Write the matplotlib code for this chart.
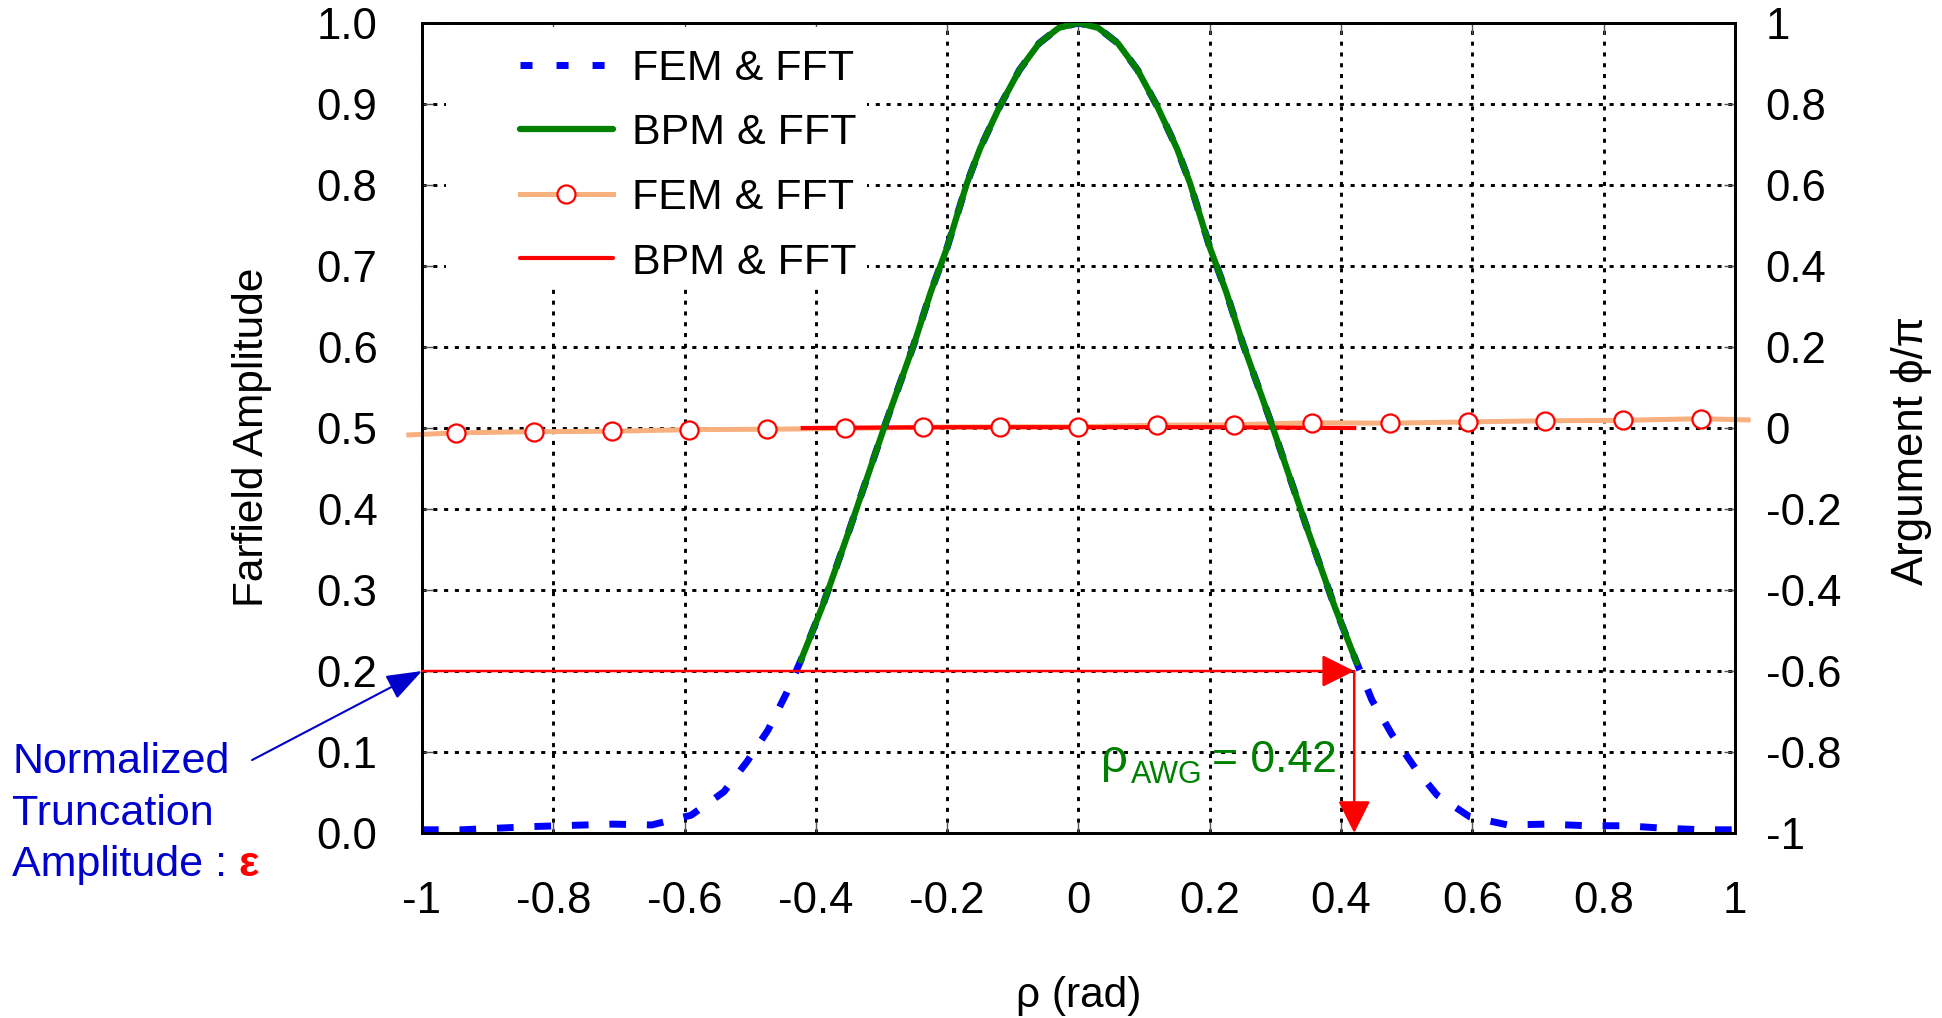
import matplotlib
matplotlib.use('Agg')
import matplotlib.pyplot as plt
import numpy as np
from matplotlib.lines import Line2D
from matplotlib.patches import Rectangle

plt.rcParams['font.family'] = ['Liberation Sans', 'DejaVu Sans']

# farfield amplitude, FEM & FFT (full range) and BPM & FFT (truncated window)
amp_x_fem = [-1.0, -0.94, -0.83, -0.71, -0.65, -0.59, -0.54, -0.505, -0.473, -0.444,
             -0.423, -0.39, -0.35, -0.295, -0.28, -0.25, -0.225, -0.2, -0.17, -0.15,
             -0.12, -0.09, -0.06, -0.03, 0.0, 0.03, 0.06, 0.09, 0.12, 0.15,
             0.17, 0.2, 0.225, 0.25, 0.28, 0.295, 0.35, 0.39, 0.424, 0.447,
             0.478, 0.513, 0.546, 0.596, 0.654, 0.714, 0.775, 0.833, 0.89, 0.951, 1.0]
amp_fem = [0.004, 0.004, 0.008, 0.011, 0.010, 0.022, 0.051, 0.088, 0.127, 0.174,
           0.213, 0.28, 0.372, 0.503, 0.537, 0.605, 0.668, 0.723, 0.802, 0.845,
           0.897, 0.942, 0.975, 0.994, 1.0, 0.994, 0.975, 0.942, 0.897, 0.845,
           0.802, 0.723, 0.668, 0.605, 0.537, 0.503, 0.372, 0.28, 0.21, 0.164,
           0.121, 0.080, 0.047, 0.020, 0.010, 0.011, 0.009, 0.009, 0.006, 0.004, 0.004]

amp_x_bpm = [-0.423, -0.39, -0.35, -0.295, -0.28, -0.25, -0.225, -0.2, -0.17, -0.15,
             -0.12, -0.09, -0.06, -0.03, 0.0, 0.03, 0.06, 0.09, 0.12, 0.15,
             0.17, 0.2, 0.225, 0.25, 0.28, 0.295, 0.35, 0.39, 0.424]
amp_bpm = [0.213, 0.28, 0.372, 0.503, 0.537, 0.605, 0.668, 0.723, 0.802, 0.845,
           0.897, 0.942, 0.975, 0.994, 1.0, 0.994, 0.975, 0.942, 0.897, 0.845,
           0.802, 0.723, 0.668, 0.605, 0.537, 0.503, 0.372, 0.28, 0.21]

# phase (argument / pi)
phase_x_fem = [-1.02, -0.948, -0.83, -0.711, -0.593, -0.474, -0.356, -0.237, -0.119, 0.0,
               0.119, 0.237, 0.356, 0.474, 0.593, 0.711, 0.83, 0.948, 1.02]
phase_fem = [-0.017, -0.012, -0.009, -0.008, -0.004, -0.003, -0.001, 0.002, 0.003, 0.003,
             0.007, 0.008, 0.013, 0.012, 0.015, 0.018, 0.019, 0.023, 0.02]
phase_x_bpm = [-0.42, -0.2, 0.0, 0.2, 0.42]
phase_bpm = [0.0, 0.002, 0.002, 0.002, 0.0]

rho_awg = 0.42
eps = 0.2

x_ticks = [-1, -0.8, -0.6, -0.4, -0.2, 0, 0.2, 0.4, 0.6, 0.8, 1]
x_labels = ['-1', '-0.8', '-0.6', '-0.4', '-0.2', '0', '0.2', '0.4', '0.6', '0.8', '1']
amp_ticks = [0.0, 0.1, 0.2, 0.3, 0.4, 0.5, 0.6, 0.7, 0.8, 0.9, 1.0]
amp_labels = ['0.0', '0.1', '0.2', '0.3', '0.4', '0.5', '0.6', '0.7', '0.8', '0.9', '1.0']
ph_ticks = [-1, -0.8, -0.6, -0.4, -0.2, 0, 0.2, 0.4, 0.6, 0.8, 1]
ph_labels = ['-1', '-0.8', '-0.6', '-0.4', '-0.2', '0', '0.2', '0.4', '0.6', '0.8', '1']

FS = 31      # legend / notes
TFS = 31.5   # tick labels
LFS = 30.5   # axis labels
c_blue = '#0000FF'
c_green = '#008000'
c_orange = '#F9B07F'
c_red = '#FF0000'
c_note = '#0000CC'

fig = plt.figure(figsize=(19.42, 10.18), dpi=100)
ax = fig.add_axes([0.2173, 0.1817, 0.6761, 0.7957])   # phase, right axis
tw = ax.twinx()                                        # amplitude, left axis

ax.set_axisbelow(True)
ax.grid(True, color='black', linewidth=2.1, linestyle=(0, (1.4, 2.3)))
ax.add_patch(Rectangle((0.018, 0.674), 0.321, 0.321, transform=ax.transAxes,
                       facecolor='white', edgecolor='none', zorder=1))

# phase curves
ax.plot(phase_x_fem, phase_fem, color=c_orange, lw=3.6, zorder=2, clip_on=False)
ax.plot(phase_x_bpm, phase_bpm, color=c_red, lw=3.0, zorder=2.1)
ax.plot(phase_x_fem[1:-1], phase_fem[1:-1], 'o', ms=13, mfc='white', mec=c_red,
        mew=1.6, zorder=2.2)

# amplitude curves
tw.plot(amp_x_fem, amp_fem, color=c_blue, lw=5, dashes=(2.4, 3.0), zorder=2)
tw.plot(amp_x_bpm, amp_bpm, color=c_green, lw=4.5, zorder=3, solid_capstyle='round')

ax.set_xlim(-1, 1)
ax.set_ylim(-1, 1)
tw.set_ylim(0, 1)
ax.set_xticks(x_ticks)
ax.set_xticklabels(x_labels)
ax.set_yticks(ph_ticks)
ax.set_yticklabels(ph_labels)
tw.set_yticks(amp_ticks)
tw.set_yticklabels(amp_labels)

ax.yaxis.tick_right()
ax.yaxis.set_label_position('right')
tw.yaxis.tick_left()
tw.yaxis.set_label_position('left')

ax.tick_params(axis='x', direction='in', top=True, bottom=True, length=8, width=1,
               color='#555555', labelsize=TFS, pad=34.5)
ax.tick_params(axis='y', direction='in', right=True, left=False, length=8, width=1,
               color='#555555', labelsize=TFS, pad=22)
tw.tick_params(axis='y', direction='in', left=True, right=False, length=8, width=1,
               color='#555555', labelsize=TFS, pad=32)

for a in (ax, tw):
    for s in a.spines.values():
        s.set_linewidth(2.0)
        s.set_color('black')

ax.set_xlabel('ρ (rad)', fontsize=LFS)
ax.xaxis.set_label_coords(0.5, -0.177)
ax.set_ylabel('Argument ϕ/π', fontsize=LFS + 1)
ax.yaxis.set_label_coords(1.119, 0.472)
tw.set_ylabel('Farfield Amplitude', fontsize=LFS)
tw.yaxis.set_label_coords(-0.114, 0.489)

# legend
handles = [
    Line2D([], [], color=c_blue, lw=5, dashes=(1.73, 3.46)),
    Line2D([], [], color=c_green, lw=4.5, solid_capstyle='round'),
    Line2D([], [], color=c_orange, lw=3.6, marker='o', ms=13, mfc='white',
           mec=c_red, mew=1.6),
    Line2D([], [], color=c_red, lw=3.0, solid_capstyle='round'),
]
labels = ['FEM & FFT', 'BPM & FFT', 'FEM & FFT', 'BPM & FFT']
tw.legend(handles, labels, loc='upper left', bbox_to_anchor=(0.0746, 0.968),
          frameon=False, fontsize=FS, borderpad=0, borderaxespad=0,
          handlelength=2.15, handletextpad=0.45, labelspacing=0.57)

# truncation arrows
arrow_red = dict(arrowstyle='-|>,head_length=1.0,head_width=0.5', color=c_red,
                 lw=1.8, shrinkA=0, shrinkB=0, mutation_scale=20)
tw.annotate('', xy=(rho_awg, eps), xytext=(-1, eps), arrowprops=arrow_red,
            annotation_clip=False)
tw.annotate('', xy=(rho_awg, 0), xytext=(rho_awg, eps), arrowprops=arrow_red,
            annotation_clip=False)

# rho_AWG = 0.42 label
tw.text(0.034, 0.0753, 'ρ', color=c_green, fontsize=34, ha='left', va='baseline')
tw.text(0.080, 0.0617, 'AWG', color=c_green, fontsize=22, ha='left', va='baseline')
tw.text(0.394, 0.0753, '= %.2f' % rho_awg, color=c_green, fontsize=FS + 1,
        ha='right', va='baseline')

tw.annotate('', xy=(-1, eps), xytext=(0.1298, 0.2534), textcoords='figure fraction',
            arrowprops=dict(arrowstyle='-|>,head_length=1.1,head_width=0.4',
                            color=c_note, lw=1.5, shrinkA=0, shrinkB=0,
                            mutation_scale=20),
            annotation_clip=False)
fig.text(0.0062, 0.2407, 'Normalized', color=c_note, fontsize=FS, va='baseline')
fig.text(0.0062, 0.1896, 'Truncation', color=c_note, fontsize=FS, va='baseline')
fig.text(0.0062, 0.1395, 'Amplitude :', color=c_note, fontsize=FS, va='baseline')
fig.text(0.1226, 0.1395, 'ε', color=c_red, fontsize=FS, fontweight='bold', va='baseline')

fig.savefig('out.png', dpi=100)
